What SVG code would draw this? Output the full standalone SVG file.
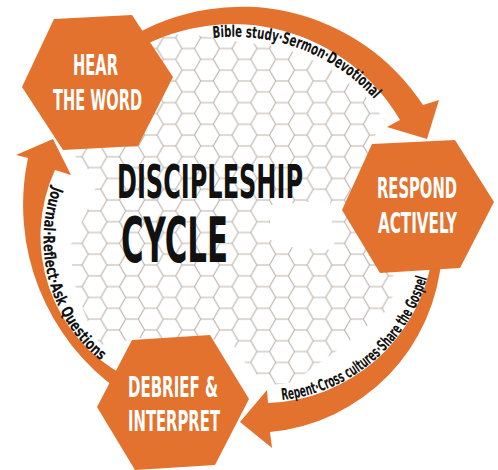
<svg xmlns="http://www.w3.org/2000/svg" width="498" height="470" viewBox="0 0 498 470">
<style>
.arrow{fill:#E2722D}
.hex{fill:#E2722D}
.lbl{font-family:"Liberation Sans Narrow","DejaVu Sans Condensed","Liberation Sans",sans-serif;font-weight:bold;font-size:29px;fill:#ffffff;text-anchor:middle}
.title{font-family:"Liberation Sans Narrow","DejaVu Sans Condensed","Liberation Sans",sans-serif;font-weight:bold;fill:#111111}
.ring{font-family:"Liberation Sans Narrow","DejaVu Sans Condensed","Liberation Sans",sans-serif;font-weight:bold;font-size:16px;fill:#111111}
</style>
<defs>
<pattern id="honey" patternUnits="userSpaceOnUse" x="169.5" y="48.5" width="37.5" height="21.65">
<path d="M12.5,0 L6.25,10.825 L-6.25,10.825 L-12.5,0 L-6.25,-10.825 L6.25,-10.825 Z M50,0 L43.75,10.825 L31.25,10.825 L25,0 L31.25,-10.825 L43.75,-10.825 Z M12.5,21.65 L6.25,32.475 L-6.25,32.475 L-12.5,21.65 L-6.25,10.825 L6.25,10.825 Z M50,21.65 L43.75,32.475 L31.25,32.475 L25,21.65 L31.25,10.825 L43.75,10.825 Z M31.25,10.825 L25,21.65 L12.5,21.65 L6.25,10.825 L12.5,0 L25,0 Z" fill="none" stroke="#bdb1a9" stroke-width="1.1"/>
</pattern>
<clipPath id="gridclip">
<polygon points="112,36 170,34 205,36 233,41 282,47 326,66 365,96 386,121 372,140 372,200 392,270 396,290 385,312 362,330 338,350 312,368 295,382 272,385 250,370 230,340 140,338 100,345 86,318 74,282 70,246 92,200 98,178 80,162 70,150 90,100"/>
</clipPath>
<path id="t1" d="M213,38 A190,190 0 0 1 376,101"/>
<path id="t2" d="M282,400 A169,169 0 0 0 427,278"/>
<path id="t3" d="M53,186 A156,156 0 0 0 101,361"/>
</defs>
<rect x="0" y="0" width="498" height="470" fill="#ffffff"/>
<g id="grid">
<rect x="0" y="0" width="498" height="470" fill="url(#honey)" clip-path="url(#gridclip)"/>
<polygon points="270,205 330,200 335,250 295,248 270,240" fill="#ffffff"/>
</g>
<g id="connectors">
<path class="arrow" d="M130,37.5 A217,217 0 0 1 423,105 L439,100 L427,139 L387,127 L400,120 A194,194 0 0 0 137,49.3 Z"/>
<path class="arrow" d="M441.7,255 A190,190 0 0 1 270,432 L272,448 L240,422 L267,390 L268,403 A172,172 0 0 0 432,258 Z"/>
<path class="arrow" d="M120,391 A227,227 0 0 1 28,158 L16,155 L53,139 L71,175 L55,170 A158,158 0 0 0 125,376 Z"/>
<text class="ring"><textPath href="#t1" textLength="179" lengthAdjust="spacingAndGlyphs">Bible study·Sermon·Devotional</textPath></text>
<text class="ring"><textPath href="#t2" textLength="201" lengthAdjust="spacingAndGlyphs">Repent·Cross cultures·Share the Gospel</textPath></text>
<text class="ring"><textPath href="#t3" textLength="193" lengthAdjust="spacingAndGlyphs">Journal·Reflect·Ask Questions</textPath></text>
</g>
<g id="hear">
<polygon class="hex" points="54,19 132,15 173,77 138,146 63,150 22,87"/>
<text class="lbl" x="95.5" y="75" transform="matrix(0.57 0 0 1 41.07 0)" textLength="78.9" lengthAdjust="spacingAndGlyphs">HEAR</text>
<text class="lbl" x="97.5" y="110" transform="matrix(0.57 0 0 1 41.93 0)" textLength="156.1" lengthAdjust="spacingAndGlyphs">THE WORD</text>
</g>
<g id="respond">
<polygon class="hex" points="372,144 455,140 494,202 460,268 380,273 342,210"/>
<text class="lbl" x="417" y="198" transform="matrix(0.57 0 0 1 179.31 0)" textLength="140.4" lengthAdjust="spacingAndGlyphs">RESPOND</text>
<text class="lbl" x="417.5" y="233" transform="matrix(0.57 0 0 1 179.53 0)" textLength="138.6" lengthAdjust="spacingAndGlyphs">ACTIVELY</text>
</g>
<g id="debrief">
<polygon class="hex" points="132,340 210,335 249,399 215,465 135,470 97,407"/>
<text class="lbl" x="173" y="397" transform="matrix(0.57 0 0 1 74.39 0)" textLength="157.9" lengthAdjust="spacingAndGlyphs">DEBRIEF &amp;</text>
<text class="lbl" x="174" y="431" transform="matrix(0.57 0 0 1 74.82 0)" textLength="161.4" lengthAdjust="spacingAndGlyphs">INTERPRET</text>
</g>
<g id="title">
<text class="title" x="117" y="198" font-size="46" transform="matrix(0.578 0 0 1 49.37 0)" textLength="321.8" lengthAdjust="spacingAndGlyphs">DISCIPLESHIP</text>
<text class="title" x="121" y="262" font-size="63" transform="matrix(0.537 0 0 1 56.02 0)" textLength="199.3" lengthAdjust="spacingAndGlyphs">CYCLE</text>
</g>
</svg>
